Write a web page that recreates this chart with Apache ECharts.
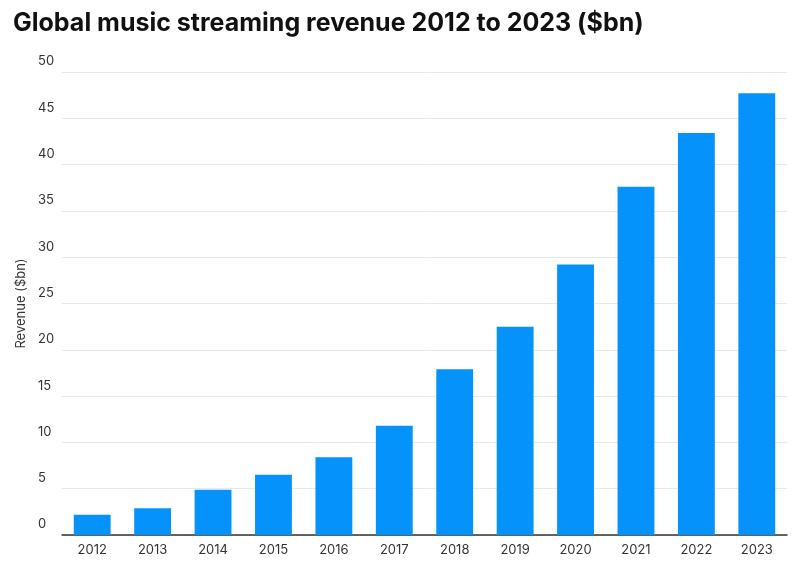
<!DOCTYPE html>
<html><head><meta charset="utf-8">
<script src="https://cdn.jsdelivr.net/npm/echarts@6/dist/echarts.min.js"></script>
<style>html,body{margin:0;padding:0;background:#fff}#c{width:800px;height:573px}</style>
</head><body><div id="c"></div>
<script>
const years = ['2012','2013','2014','2015','2016','2017','2018','2019','2020','2021','2022','2023'];
const revenue = [2.2, 2.9, 4.9, 6.5, 8.4, 11.8, 17.9, 22.5, 29.2, 37.6, 43.4, 47.7];
const chart = echarts.init(document.getElementById('c'));
chart.setOption({
  animation: false,
  title: { text: 'Global music streaming revenue 2012 to 2023 ($bn)', left: 8, top: 6,
    textStyle: { fontFamily: 'Inter', fontSize: 25, fontWeight: 'bold', color: '#111' } },
  grid: { left: 62, right: 13, top: 72, bottom: 38 },
  xAxis: { type: 'category', data: years,
    axisLine: { lineStyle: { color: '#333', width: 1.5 } }, axisTick: { show: false },
    axisLabel: { color: '#333', fontFamily: 'Inter', fontSize: 13, margin: 9 } },
  yAxis: { type: 'value', min: 0, max: 50, interval: 5,
    name: 'Revenue ($bn)', nameLocation: 'middle', nameGap: 34, nameRotate: 90,
    nameTextStyle: { color: '#333', fontFamily: 'Inter', fontSize: 13 },
    axisLabel: { align: 'left', verticalAlign: 'bottom', margin: 24, padding: [0,0,4,0],
      color: '#333', fontFamily: 'Inter', fontSize: 13 },
    splitLine: { lineStyle: { color: '#e8e8e8' } } },
  series: [{ type: 'bar', data: revenue, barWidth: '61%', itemStyle: { color: '#0593fb' } }]
});
</script></body></html>
